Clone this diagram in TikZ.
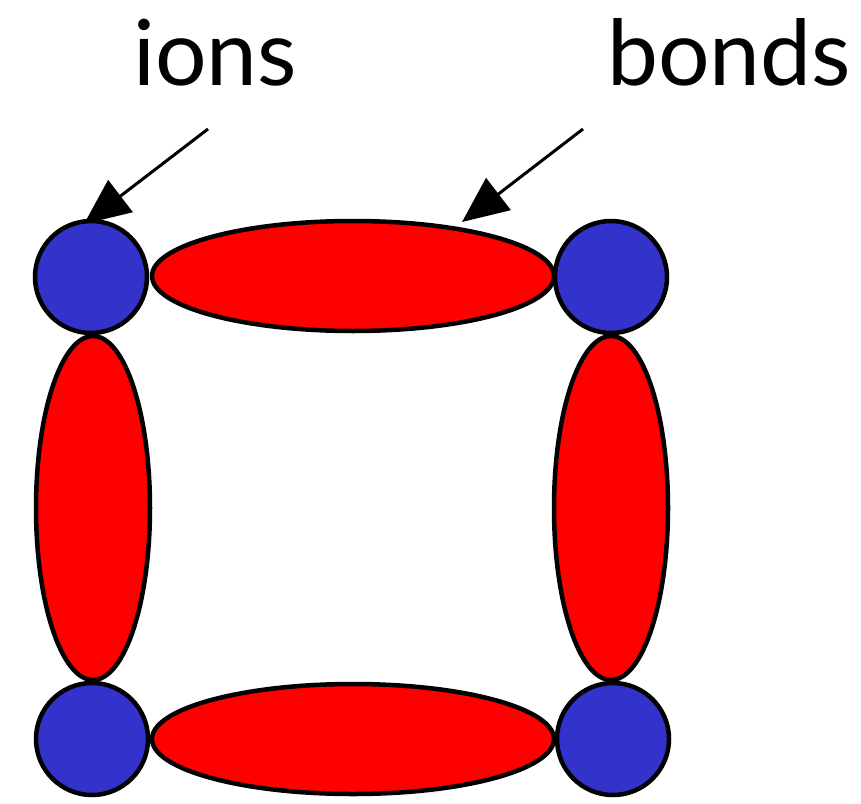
\documentclass[tikz,border=0pt]{standalone}
\usepackage{fontspec}
\setmainfont{Lato}
\usetikzlibrary{shapes.geometric,arrows.meta}
\definecolor{ionblue}{RGB}{51,51,204}
\definecolor{bondred}{RGB}{255,0,0}
\begin{document}
\begin{tikzpicture}[x=1pt,y=-1pt,
  ion/.style={circle,draw=black,line width=4.5pt,fill=ionblue,minimum size=112pt,inner sep=0pt},
  hbond/.style={ellipse,draw=black,line width=4.5pt,fill=bondred,minimum width=402pt,minimum height=110pt,inner sep=0pt},
  vbond/.style={ellipse,draw=black,line width=4.5pt,fill=bondred,minimum width=114pt,minimum height=344pt,inner sep=0pt},
  label/.style={font=\fontsize{91}{95}\selectfont,anchor=base west,inner sep=0pt},
  pointer/.style={line width=3pt,-{Triangle[length=46pt,width=40pt]}}]
\useasboundingbox (0,0) rectangle (861,803);
% bonds
\node[hbond] (btop) at (353,276) {};
\node[hbond] (bbot) at (353,739) {};
\node[vbond] (bleft) at (93,508) {};
\node[vbond] (bright) at (611,508) {};
% ions
\node[ion] (itl) at (91,277) {};
\node[ion] (itr) at (611,277) {};
\node[ion] (ibl) at (92,739) {};
\node[ion] (ibr) at (613,739) {};
% labels
\node[label] (lions) at (133,85) {ions};
\node[label] (lbonds) at (607,85) {bonds};
% arrows
\coordinate (a1s) at (208,129);
\coordinate (a1e) at (84,224);
\coordinate (a2s) at (583,129);
\coordinate (a2e) at (462,222);
\draw[pointer] (a1s) -- (a1e);
\draw[pointer] (a2s) -- (a2e);
\end{tikzpicture}
\end{document}
